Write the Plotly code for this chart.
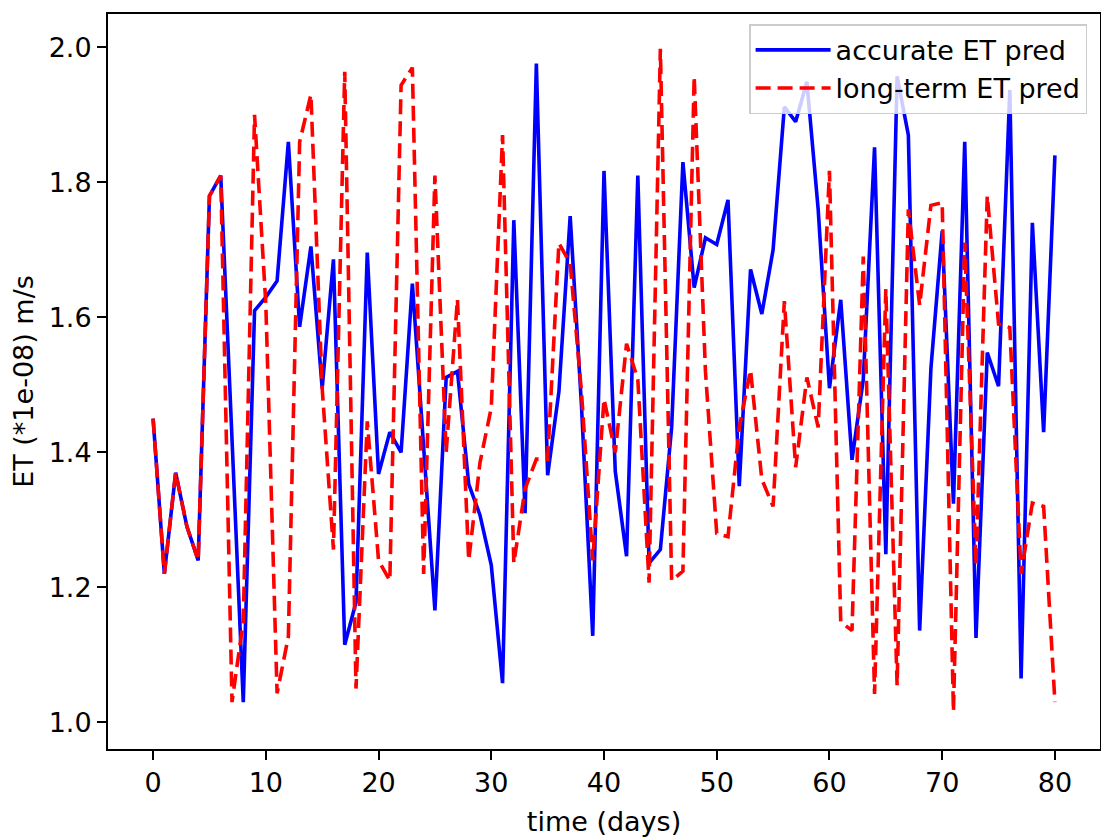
import plotly.graph_objects as go

# days 0..80
days = list(range(81))

accurate_et = [
    1.45, 1.22, 1.37, 1.29, 1.24, 1.78, 1.81, 1.42, 1.03, 1.61,
    1.63, 1.654, 1.86, 1.586, 1.705, 1.495, 1.686, 1.115, 1.178, 1.696,
    1.368, 1.43, 1.40, 1.65, 1.41, 1.166, 1.511, 1.52, 1.353, 1.307,
    1.233, 1.058, 1.744, 1.31, 1.976, 1.366, 1.49, 1.75, 1.47, 1.128,
    1.817, 1.372, 1.246, 1.81, 1.236, 1.256, 1.437, 1.83, 1.644, 1.718,
    1.708, 1.774, 1.35, 1.671, 1.605, 1.70, 1.912, 1.89, 1.949, 1.76,
    1.495, 1.626, 1.389, 1.508, 1.852, 1.249, 1.957, 1.87, 1.136, 1.524,
    1.728, 1.324, 1.86, 1.125, 1.548, 1.498, 1.937, 1.065, 1.74, 1.43,
    1.84,
]

longterm_et = [
    1.45, 1.22, 1.37, 1.29, 1.24, 1.78, 1.81, 1.03, 1.15, 1.90,
    1.62, 1.043, 1.127, 1.86, 1.93, 1.495, 1.256, 1.964, 1.05, 1.446,
    1.24, 1.21, 1.944, 1.97, 1.22, 1.81, 1.40, 1.627, 1.24, 1.385,
    1.466, 1.87, 1.236, 1.346, 1.39, 1.39, 1.71, 1.68, 1.49, 1.24,
    1.479, 1.40, 1.561, 1.508, 1.207, 1.998, 1.21, 1.224, 1.957, 1.52,
    1.28, 1.275, 1.437, 1.522, 1.36, 1.32, 1.624, 1.378, 1.511, 1.437,
    1.817, 1.149, 1.136, 1.69, 1.042, 1.642, 1.055, 1.76, 1.618, 1.766,
    1.77, 1.016, 1.711, 1.233, 1.78, 1.59, 1.585, 1.22, 1.325, 1.32,
    1.03,
]

x_ticks = [0, 10, 20, 30, 40, 50, 60, 70, 80]
y_ticks = [1.0, 1.2, 1.4, 1.6, 1.8, 2.0]

font_family = "DejaVu Sans"
font_size = 27

fig = go.Figure()
fig.add_trace(
    go.Scatter(
        x=days, y=accurate_et, mode="lines", name="accurate ET pred",
        line=dict(color="#0000ff", width=3.6),
    )
)
fig.add_trace(
    go.Scatter(
        x=days, y=longterm_et, mode="lines", name="long-term ET pred",
        line=dict(color="#ff0000", width=3.6, dash="15px,7px"),
    )
)

axis_common = dict(
    showgrid=False, zeroline=False,
    showline=True, linecolor="black", linewidth=2, mirror=True,
    ticks="outside", ticklen=9, tickwidth=2, tickcolor="black",
    tickfont=dict(family=font_family, size=font_size, color="black"),
)

fig.update_xaxes(
    range=[-4.0, 84.0], tickvals=x_ticks,
    title=dict(text="time (days)", font=dict(family=font_family, size=font_size, color="black"), standoff=15),
    **axis_common,
)
fig.update_yaxes(
    range=[0.9605, 2.0495], tickvals=y_ticks, tickformat=".1f",
    title=dict(text="ET (*1e-08) m/s", font=dict(family=font_family, size=font_size, color="black"), standoff=8),
    **axis_common,
)

# page body adds an 8px margin, so the figure is a little smaller than the window
fig.update_layout(
    width=1101, height=830,
    margin=dict(l=100, r=9, t=4, b=89),
    plot_bgcolor="white", paper_bgcolor="white",
    font=dict(family=font_family, color="black"),
    legend=dict(
        x=0.987, y=0.986, xanchor="right", yanchor="top",
        bgcolor="rgba(255,255,255,0.8)", bordercolor="#cccccc", borderwidth=1.5,
        font=dict(family=font_family, size=font_size, color="black"),
        itemwidth=75,
    ),
)

fig.write_html("out.html")
